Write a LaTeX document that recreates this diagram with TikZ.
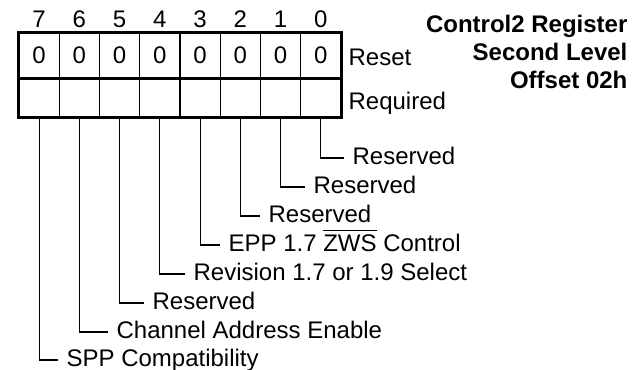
\documentclass[tikz,border=0pt]{standalone}
\usepackage{fontspec}
\setmainfont{Liberation Sans}
\usepackage{amsmath}
\usepackage{tikz}
\usetikzlibrary{arrows.meta, positioning}

\begin{document}
\begin{tikzpicture}[x=1pt, y=-1pt, font=\fontsize{24}{28}\selectfont, line width=1.2pt,
  cell/.style={draw, line width=1.2pt, minimum width=40.25pt, inner sep=0pt},
  border/.style={line width=3pt},
  bitlabel/.style={anchor=west, inner sep=8pt, text height=17.5pt, text depth=5.5pt}]
  \useasboundingbox (0,0) rectangle (641,370);

  % Titel
  \node[anchor=north east, align=right, inner sep=0pt, font=\fontsize{24}{28}\selectfont\bfseries] (title) at (628,15) {Control2 Register\\Second Level\\Offset 02h};

  % Register
  \foreach \i in {0,...,7} {
    \pgfmathsetmacro{\cx}{39.1+40.25*(7-\i)}
    \node[anchor=base] (bit\i) at (\cx,27) {\i};
    \node[cell, minimum height=44pt] (rst\i) at (\cx,55.5) {0};
    \node[cell, minimum height=39pt] (req\i) at (\cx,97) {};
  }
  \draw[border] (rst7.north west) rectangle (req0.south east);
  \draw[border] (rst7.south west) -- (rst0.south east);

  \node[anchor=base west, inner sep=0pt] (reset) at (348,65) {Reset};
  \node[anchor=base west, inner sep=0pt] (required) at (348,109) {Required};

  % Bitbeschreibungen
  \foreach \i/\y/\tx/\txt in {0/158/353/Reserved, 1/187/314/Reserved, 2/216/269/Reserved,
      3/245/229/EPP 1.7 $\overline{\mbox{ZWS}}$ Control, 4/274/194/Revision 1.7 or 1.9 Select,
      5/303/153/Reserved, 6/332/117/Channel Address Enable, 7/360/67/SPP Compatibility} {
    \node[bitlabel] (lbl\i) at (\tx-9,\y) {\txt};
    \draw (req\i.south) |- (lbl\i.west);
  }
\end{tikzpicture}
\end{document}
